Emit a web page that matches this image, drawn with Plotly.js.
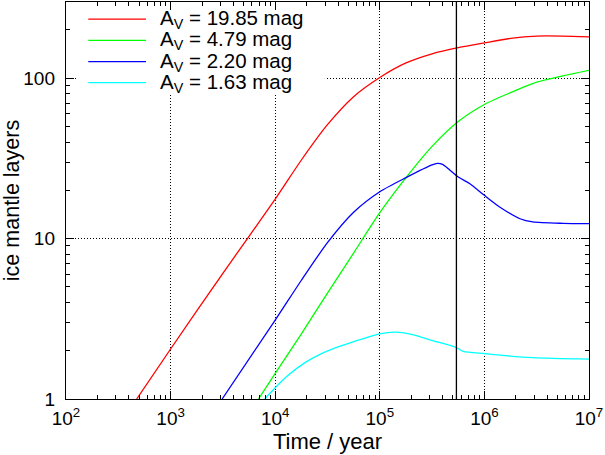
<!DOCTYPE html>
<html>
<head>
<meta charset="utf-8">
<script src="https://cdn.plot.ly/plotly-3.0.1.min.js"></script>
<style>
  html, body { margin: 0; padding: 0; background: #fff; }
  #chart { width: 605px; height: 455px; }
</style>
</head>
<body>
<div id="chart"></div>
<script>
// Ice mantle growth (number of layers) versus time for four visual extinctions.
const seriesLabels = ['A<sub>V</sub> = 19.85 mag', 'A<sub>V</sub> = 4.79 mag',
                      'A<sub>V</sub> = 2.20 mag', 'A<sub>V</sub> = 1.63 mag'];
const seriesColors = ['#ff0000', '#00ff00', '#0000ff', '#00ffff'];

// A_V = 19.85 mag
const timeHigh   = [474, 1000, 3160, 10000, 17800, 31600, 56200, 100000, 178000,
                    316000, 562000, 1000000, 1780000, 3160000, 5620000, 10000000];
const layersHigh = [1, 2.05, 6.08, 17.6, 30.9, 51.3, 76.7, 101, 124.5,
                    142, 155, 166, 177, 183, 183, 181];

// A_V = 4.79 mag
const timeMid    = [6920, 10000, 17800, 31600, 56200, 100000, 178000, 316000,
                    562000, 1000000, 1780000, 3160000, 5620000, 10000000];
const layersMid  = [1, 1.445, 2.55, 4.57, 8.13, 14.5, 24, 37.6,
                    53.7, 68.6, 81.3, 94.4, 103.5, 112];

// A_V = 2.20 mag
const timeLow    = [3110, 10000, 17800, 31600, 56200, 100000, 178000, 316000, 355000,
                    398000, 562000, 726000, 1000000, 1410000, 2190000, 2900000, 5620000, 10000000];
const layersLow  = [1, 3.1, 5.5, 9.44, 14.6, 19.6, 24.0, 28.8, 29.4,
                    29.0, 24.2, 22.0, 18.6, 15.7, 13.3, 12.7, 12.45, 12.4];

// A_V = 1.63 mag
const timeEdge   = [7940, 10000, 13200, 19100, 27700, 39900, 57500, 100000, 139000,
                    201000, 312000, 542000, 627000, 1000000, 1260000, 2900000, 10000000];
const layersEdge = [1, 1.175, 1.40, 1.68, 1.92, 2.11, 2.29, 2.55, 2.61,
                    2.53, 2.32, 2.09, 1.98, 1.92, 1.89, 1.81, 1.77];

// Time marker drawn as a vertical rule
const markerTime = 540000;

const xTickVals = [100, 1000, 10000, 100000, 1000000, 10000000];
const xTickText = ['10<sup>2</sup>', '10<sup>3</sup>', '10<sup>4</sup>',
                   '10<sup>5</sup>', '10<sup>6</sup>', '10<sup>7</sup>'];
const yTickVals = [1, 10, 100];
const yTickText = ['1', '10', '100'];

// Minor ticks at 2..9 within each decade
function decadeMinors(decades) {
  const out = [];
  decades.forEach(d => { for (let k = 2; k <= 9; k++) out.push(k * d); });
  return out;
}
const xMinorVals = decadeMinors([100, 1000, 10000, 100000, 1000000]);
const yMinorVals = decadeMinors([1, 10, 100]);

const FONT = '"Liberation Sans", Arial, Helvetica, sans-serif';

const series = [
  [timeHigh, layersHigh], [timeMid, layersMid], [timeLow, layersLow], [timeEdge, layersEdge]
];

const traces = series.map(([x, y], i) => ({
  type: 'scatter', mode: 'lines', x: x, y: y,
  name: seriesLabels[i], showlegend: false, hoverinfo: 'skip',
  line: { color: seriesColors[i], width: 1.3, shape: 'spline', smoothing: 0.7 }
}));

// Key: opaque box, line samples and labels in paper coordinates
const keyRowsY = [0.957, 0.9035, 0.8496, 0.7967];
const shapes = [
  { type: 'rect', xref: 'paper', yref: 'paper', x0: 0.023, x1: 0.495, y0: 0.768, y1: 0.978,
    fillcolor: '#ffffff', line: { width: 0 }, layer: 'above' },
  { type: 'line', xref: 'x', yref: 'paper', x0: markerTime, x1: markerTime, y0: 0, y1: 1,
    line: { color: '#000000', width: 1.3 }, layer: 'above' }
];
const annotations = [];
keyRowsY.forEach((yy, i) => {
  shapes.push({ type: 'line', xref: 'paper', yref: 'paper', x0: 0.0426, x1: 0.153, y0: yy, y1: yy,
                line: { color: seriesColors[i], width: 1.3 }, layer: 'above' });
  annotations.push({ xref: 'paper', yref: 'paper', x: 0.175, y: yy, xanchor: 'left', yanchor: 'middle',
                     text: seriesLabels[i], showarrow: false,
                     font: { family: FONT, size: 20.5, color: '#000' } });
});

const axisCommon = {
  type: 'log', showline: true, linecolor: '#000', linewidth: 1.2, mirror: 'allticks',
  ticks: 'inside', ticklen: 8, tickcolor: '#000', tickwidth: 1,
  showgrid: true, gridcolor: '#000', griddash: '1px,2px', gridwidth: 1,
  zeroline: false, tickfont: { family: FONT, size: 19, color: '#000' }
};
const minorCommon = { tickmode: 'array', ticks: 'inside', ticklen: 4,
                      tickcolor: '#000', tickwidth: 1, showgrid: false };

const layout = {
  width: 605, height: 455,
  margin: { l: 66, r: 16, t: 2, b: 56 },
  paper_bgcolor: '#fff', plot_bgcolor: '#fff',
  font: { family: FONT, color: '#000' },
  showlegend: false,
  xaxis: Object.assign({}, axisCommon, {
    range: [2, 7], tickvals: xTickVals, ticktext: xTickText,
    ticklabelstandoff: 2,
    minor: Object.assign({}, minorCommon, { tickvals: xMinorVals }),
    title: { text: 'Time / year', font: { family: FONT, size: 22, color: '#000' }, standoff: 2 }
  }),
  yaxis: Object.assign({}, axisCommon, {
    range: [0, 2.475], tickvals: yTickVals, ticktext: yTickText,
    ticklabelstandoff: 6,
    minor: Object.assign({}, minorCommon, { tickvals: yMinorVals }),
    title: { text: 'ice mantle layers', font: { family: FONT, size: 21.5, color: '#000' }, standoff: 8 }
  }),
  shapes: shapes,
  annotations: annotations
};

Plotly.newPlot('chart', traces, layout, { displayModeBar: false, staticPlot: true });
</script>
</body>
</html>
